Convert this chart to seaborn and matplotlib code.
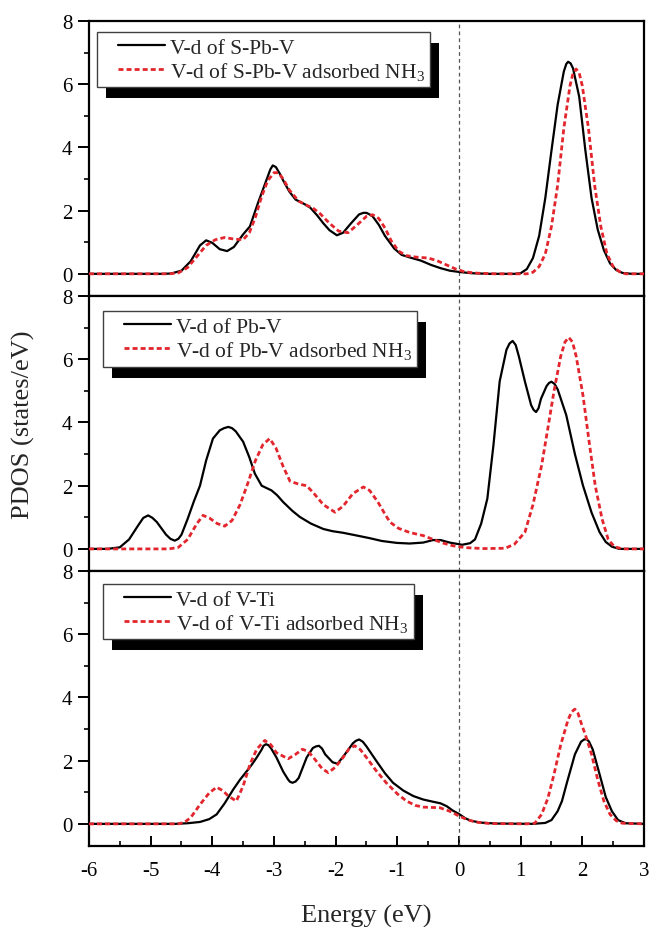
import matplotlib
matplotlib.use("Agg")
import matplotlib.pyplot as plt
from matplotlib.patches import Rectangle
from matplotlib.transforms import IdentityTransform
from matplotlib.ticker import MultipleLocator
from matplotlib.lines import Line2D
from matplotlib.legend_handler import HandlerLine2D
import seaborn as sns

# ---- V-d PDOS of S-Pb-V (clean / NH3 adsorbed) ----
spbv_e = [-6.0, -4.8, -4.67, -4.5, -4.35, -4.2, -4.1, -4.0, -3.88, -3.76, -3.65, -3.5,
          -3.39, -3.26, -3.12, -3.06, -3.02, -2.97, -2.9, -2.85, -2.75, -2.65, -2.5, -2.41,
          -2.3, -2.2, -2.1, -1.98, -1.88, -1.75, -1.62, -1.55, -1.5, -1.45, -1.4, -1.3,
          -1.2, -1.05, -0.93, -0.8, -0.62, -0.45, -0.3, -0.15, 0.0, 0.2, 0.5, 0.9, 1.0,
          1.1, 1.2, 1.3, 1.4, 1.5, 1.6, 1.7, 1.74, 1.77, 1.81, 1.85, 1.95, 2.05, 2.15,
          2.25, 2.35, 2.45, 2.55, 2.65, 2.8, 3.0]
spbv_v = [0.0, 0.0, 0.01, 0.1, 0.4, 0.9, 1.06, 0.98, 0.78, 0.72, 0.85, 1.25,
          1.5, 2.24, 2.98, 3.3, 3.43, 3.38, 3.15, 2.95, 2.6, 2.35, 2.2, 2.09,
          1.85, 1.6, 1.38, 1.22, 1.3, 1.6, 1.88, 1.93, 1.93, 1.88, 1.82, 1.55,
          1.2, 0.8, 0.6, 0.52, 0.42, 0.28, 0.18, 0.1, 0.06, 0.02, 0.0, 0.0, 0.02,
          0.15, 0.5, 1.2, 2.4, 3.9, 5.35, 6.4, 6.64, 6.71, 6.66, 6.5, 5.6, 3.9, 2.4,
          1.4, 0.75, 0.33, 0.12, 0.03, 0.0, 0.0]
spbv_nh3_e = [-6.0, -4.7, -4.55, -4.4, -4.25, -4.1, -3.95, -3.8, -3.65, -3.5, -3.4,
              -3.3, -3.2, -3.1, -3.0, -2.93, -2.85, -2.75, -2.6, -2.45, -2.38, -2.25,
              -2.1, -1.95, -1.8, -1.65, -1.5, -1.4, -1.3, -1.2, -1.1, -0.98, -0.86,
              -0.7, -0.5, -0.36, -0.2, -0.05, 0.1, 0.3, 0.6, 1.1, 1.2, 1.3, 1.4, 1.5,
              1.6, 1.7, 1.8, 1.85, 1.9, 1.95, 2.0, 2.1, 2.2, 2.3, 2.4, 2.5, 2.6, 2.7,
              3.0]
spbv_nh3_v = [0.0, 0.0, 0.03, 0.2, 0.55, 0.9, 1.08, 1.15, 1.1, 1.08, 1.3,
              1.8, 2.45, 2.95, 3.2, 3.2, 3.0, 2.65, 2.3, 2.15, 2.1, 1.9,
              1.6, 1.35, 1.3, 1.55, 1.82, 1.87, 1.75, 1.45, 1.05, 0.72, 0.58,
              0.53, 0.5, 0.42, 0.28, 0.15, 0.06, 0.02, 0.0, 0.0, 0.05, 0.23, 0.63, 1.5,
              2.8, 4.6, 5.95, 6.35, 6.48, 6.35, 5.95, 4.6, 2.8, 1.5, 0.63, 0.23, 0.07,
              0.0, 0.0]

# ---- V-d PDOS of Pb-V ----
pbv_e = [-6.0, -5.7, -5.5, -5.35, -5.2, -5.12, -5.04, -4.97, -4.9, -4.75, -4.68, -4.61,
         -4.55, -4.5, -4.4, -4.3, -4.2, -4.1, -3.99, -3.88, -3.81, -3.74, -3.68, -3.62,
         -3.5, -3.4, -3.31, -3.2, -3.04, -2.95, -2.85, -2.7, -2.58, -2.4, -2.2, -2.05,
         -1.88, -1.65, -1.45, -1.25, -1.01, -0.8, -0.58, -0.42, -0.3, -0.15, 0.05, 0.18,
         0.26, 0.36, 0.46, 0.56, 0.66, 0.77, 0.82, 0.87, 0.92, 0.97, 1.07, 1.17, 1.21,
         1.25, 1.29, 1.33, 1.42, 1.46, 1.5, 1.55, 1.6, 1.74, 1.88, 2.01, 2.15, 2.28,
         2.38, 2.48, 2.6, 3.0]
pbv_v = [0.0, 0.0, 0.05, 0.3, 0.75, 0.98, 1.06, 0.98, 0.85, 0.45, 0.32, 0.26,
         0.32, 0.45, 0.95, 1.5, 2.0, 2.8, 3.49, 3.75, 3.82, 3.86, 3.82, 3.72,
         3.39, 2.9, 2.38, 2.0, 1.85, 1.7, 1.48, 1.2, 1.01, 0.8, 0.63, 0.56,
         0.51, 0.42, 0.34, 0.25, 0.19, 0.17, 0.2, 0.28, 0.28, 0.2, 0.13, 0.18,
         0.3, 0.8, 1.59, 3.3, 5.3, 6.3, 6.5, 6.58, 6.45, 6.1, 5.29, 4.55, 4.4,
         4.33, 4.45, 4.75, 5.15, 5.25, 5.29, 5.22, 5.05, 4.23, 3.0, 2.01, 1.15, 0.53,
         0.22, 0.07, 0.0, 0.0]
pbv_nh3_e = [-6.0, -4.7, -4.55, -4.4, -4.25, -4.15, -4.05, -3.92, -3.8, -3.68, -3.55,
             -3.42, -3.3, -3.18, -3.07, -2.97, -2.85, -2.74, -2.6, -2.47, -2.35, -2.2,
             -2.01, -1.88, -1.72, -1.55, -1.45, -1.32, -1.2, -1.12, -0.98, -0.8, -0.58,
             -0.42, -0.25, -0.1, 0.1, 0.4, 0.75, 0.9, 1.07, 1.2, 1.34, 1.44, 1.54, 1.65,
             1.72, 1.78, 1.84, 1.9, 2.01, 2.11, 2.21, 2.32, 2.42, 2.52, 2.65, 3.0]
pbv_nh3_v = [0.0, 0.0, 0.05, 0.3, 0.8, 1.06, 0.98, 0.8, 0.72, 0.9, 1.4,
             2.1, 2.8, 3.3, 3.49, 3.2, 2.6, 2.14, 2.05, 2.0, 1.75, 1.4,
             1.16, 1.35, 1.75, 1.96, 1.85, 1.5, 1.1, 0.85, 0.65, 0.52, 0.42,
             0.3, 0.18, 0.1, 0.04, 0.01, 0.02, 0.15, 0.53, 1.4, 2.64, 3.8, 4.98, 6.1,
             6.55, 6.69, 6.55, 6.1, 4.87, 3.4, 2.0, 0.95, 0.3, 0.07, 0.0, 0.0]

# ---- V-d PDOS of V-Ti ----
vti_e = [-6.0, -4.6, -4.4, -4.2, -4.05, -3.93, -3.8, -3.66, -3.55, -3.44, -3.35, -3.28,
         -3.2, -3.17, -3.13, -3.09, -3.05, -2.96, -2.85, -2.77, -2.74, -2.7, -2.65, -2.6,
         -2.47, -2.37, -2.32, -2.27, -2.22, -2.17, -2.05, -1.97, -1.85, -1.72, -1.67,
         -1.62, -1.56, -1.5, -1.34, -1.2, -1.07, -0.9, -0.74, -0.58, -0.42, -0.3, -0.2,
         -0.1, 0.01, 0.1, 0.19, 0.35, 0.6, 1.2, 1.4, 1.5, 1.6, 1.67, 1.75, 1.88, 1.98,
         2.03, 2.07, 2.11, 2.17, 2.28, 2.38, 2.48, 2.58, 2.7, 3.0]
vti_v = [0.0, 0.0, 0.02, 0.06, 0.15, 0.3, 0.65, 1.09, 1.4, 1.67, 1.9, 2.1,
         2.35, 2.47, 2.52, 2.49, 2.4, 2.1, 1.65, 1.4, 1.33, 1.3, 1.34, 1.45,
         2.1, 2.4, 2.45, 2.47, 2.38, 2.2, 1.95, 1.9, 2.2, 2.55, 2.63,
         2.67, 2.6, 2.45, 1.99, 1.6, 1.3, 1.05, 0.88, 0.77, 0.7, 0.65, 0.56,
         0.42, 0.3, 0.18, 0.1, 0.04, 0.01, 0.0, 0.03, 0.12, 0.4, 0.72, 1.3, 2.2, 2.6,
         2.67, 2.68, 2.6, 2.35, 1.57, 0.85, 0.4, 0.12, 0.02, 0.0]
vti_nh3_e = [-6.0, -4.55, -4.45, -4.35, -4.2, -4.05, -3.93, -3.83, -3.74, -3.61, -3.5,
             -3.39, -3.28, -3.15, -3.05, -2.96, -2.77, -2.65, -2.54, -2.45, -2.36, -2.22,
             -2.12, -2.0, -1.88, -1.78, -1.69, -1.6, -1.5, -1.35, -1.18, -1.0, -0.85,
             -0.7, -0.58, -0.44, -0.31, -0.15, 0.01, 0.15, 0.3, 0.5, 1.1, 1.23, 1.34,
             1.44, 1.54, 1.65, 1.77, 1.83, 1.88, 1.93, 1.98, 2.07, 2.15, 2.25, 2.35,
             2.45, 2.55, 2.65, 3.0]
vti_nh3_v = [0.0, 0.0, 0.05, 0.2, 0.61, 0.98, 1.16, 1.05, 0.88, 0.72, 1.2,
             1.88, 2.36, 2.64, 2.5, 2.25, 2.06, 2.2, 2.36, 2.3, 2.1, 1.75,
             1.62, 1.8, 2.1, 2.38, 2.47, 2.35, 2.1, 1.7, 1.3, 0.95, 0.72,
             0.58, 0.53, 0.52, 0.51, 0.4, 0.24, 0.12, 0.05, 0.01, 0.0, 0.02, 0.3,
             0.8, 1.56, 2.5, 3.3, 3.55, 3.63, 3.5, 3.2, 2.7, 2.2, 1.4, 0.72,
             0.3, 0.1, 0.02, 0.0]

clean_labels = ["V-d of S-Pb-V", "V-d of Pb-V", "V-d of V-Ti"]
nh3_labels = ["V-d of S-Pb-V adsorbed NH$_3$", "V-d of Pb-V adsorbed NH$_3$",
              "V-d of V-Ti adsorbed NH$_3$"]


class IndentedLine(HandlerLine2D):
    """Legend line sample that leaves an empty gap on its left side."""

    def __init__(self, indent, **kw):
        super().__init__(**kw)
        self.indent = indent

    def create_artists(self, legend, orig_handle, xdescent, ydescent, width,
                       height, fontsize, trans):
        off = self.indent * fontsize
        return super().create_artists(legend, orig_handle, xdescent - off,
                                      ydescent, width - off, height, fontsize,
                                      trans)


sns.set_theme(style="ticks")
plt.rcParams["font.family"] = ["Liberation Serif", "DejaVu Serif"]
plt.rcParams["mathtext.fontset"] = "custom"
plt.rcParams["mathtext.rm"] = "Liberation Serif"
plt.rcParams["mathtext.it"] = "Liberation Serif:italic"
plt.rcParams["axes.unicode_minus"] = False

fig = plt.figure(figsize=(6.51, 9.28), dpi=100)
left, width, height = 0.1367, 0.8525, 0.2963
bottoms = [0.6800, 0.3836, 0.0873]
anchors = [(0.0144, 0.96), (0.025, 0.945), (0.025, 0.953)]

panels = [
    (spbv_e, spbv_v, spbv_nh3_e, spbv_nh3_v),
    (pbv_e, pbv_v, pbv_nh3_e, pbv_nh3_v),
    (vti_e, vti_v, vti_nh3_e, vti_nh3_v),
]

axes = []
legends = []
for i, (be, bv, re_, rv) in enumerate(panels):
    ax = fig.add_axes([left, bottoms[i], width, height])
    ax.set_facecolor("white")
    ax.axvline(0, color="#555555", lw=0.9, linestyle=(0, (3, 2.5)), zorder=1)
    sns.lineplot(x=be, y=bv, ax=ax, color="black", lw=1.6, sort=False,
                 estimator=None, label=clean_labels[i], zorder=3)
    sns.lineplot(x=re_, y=rv, ax=ax, color="#e3262d", lw=2.0, sort=False,
                 estimator=None, linestyle=(0, (1.8, 1.1)),
                 label=nh3_labels[i], zorder=3)
    ax.set_xlim(-6, 3)
    ax.set_ylim(-0.7, 8)
    ax.xaxis.set_major_locator(MultipleLocator(1))
    ax.xaxis.set_minor_locator(MultipleLocator(0.5))
    ax.yaxis.set_major_locator(MultipleLocator(2))
    ax.yaxis.set_minor_locator(MultipleLocator(1))
    ax.set_xlabel("")
    ax.set_ylabel("")
    for sp in ax.spines.values():
        sp.set_visible(True)
        sp.set_linewidth(1.6)
        sp.set_color("black")
    ax.tick_params(axis="y", which="major", direction="out", length=8, width=1.4,
                   labelsize=15, pad=4, right=False, colors="black")
    ax.tick_params(axis="y", which="minor", direction="out", length=3.5, width=1.4,
                   right=False)
    if i < 2:
        ax.tick_params(axis="x", which="both", bottom=False, top=False,
                       labelbottom=False)
    else:
        ax.tick_params(axis="x", which="major", direction="in", length=7, width=1.4,
                       labelsize=15, pad=11, top=False, colors="black")
        ax.tick_params(axis="x", which="minor", direction="in", length=3.5,
                       width=1.4, top=False)
    leg = ax.legend(loc="upper left", bbox_to_anchor=anchors[i], borderaxespad=0,
                    frameon=True, fancybox=False, edgecolor="#404040",
                    framealpha=1, fontsize=15.5, handlelength=2.9,
                    handletextpad=0.22, labelspacing=0.1, borderpad=0.26,
                    handler_map={Line2D: IndentedLine(0.72)})
    leg.get_frame().set_linewidth(1.0)
    leg.set_zorder(6)
    axes.append(ax)
    legends.append(leg)

fig.text(23 / 651, 0.542, "PDOS (states/eV)", rotation=90, ha="center",
         va="center", fontsize=19)
fig.text(0.563, 0.006, "Energy (eV)", ha="center", va="baseline", fontsize=19)

# solid offset shadow behind each legend box
fig.canvas.draw()
for ax, leg in zip(axes, legends):
    bb = leg.get_frame().get_window_extent()
    shadow = Rectangle((bb.x0 + 9, bb.y0 - 11), bb.width, bb.height,
                       transform=IdentityTransform(), facecolor="black",
                       edgecolor="none", zorder=5.5)
    ax.add_artist(shadow)

fig.savefig("out.png", dpi=100, facecolor="white")
